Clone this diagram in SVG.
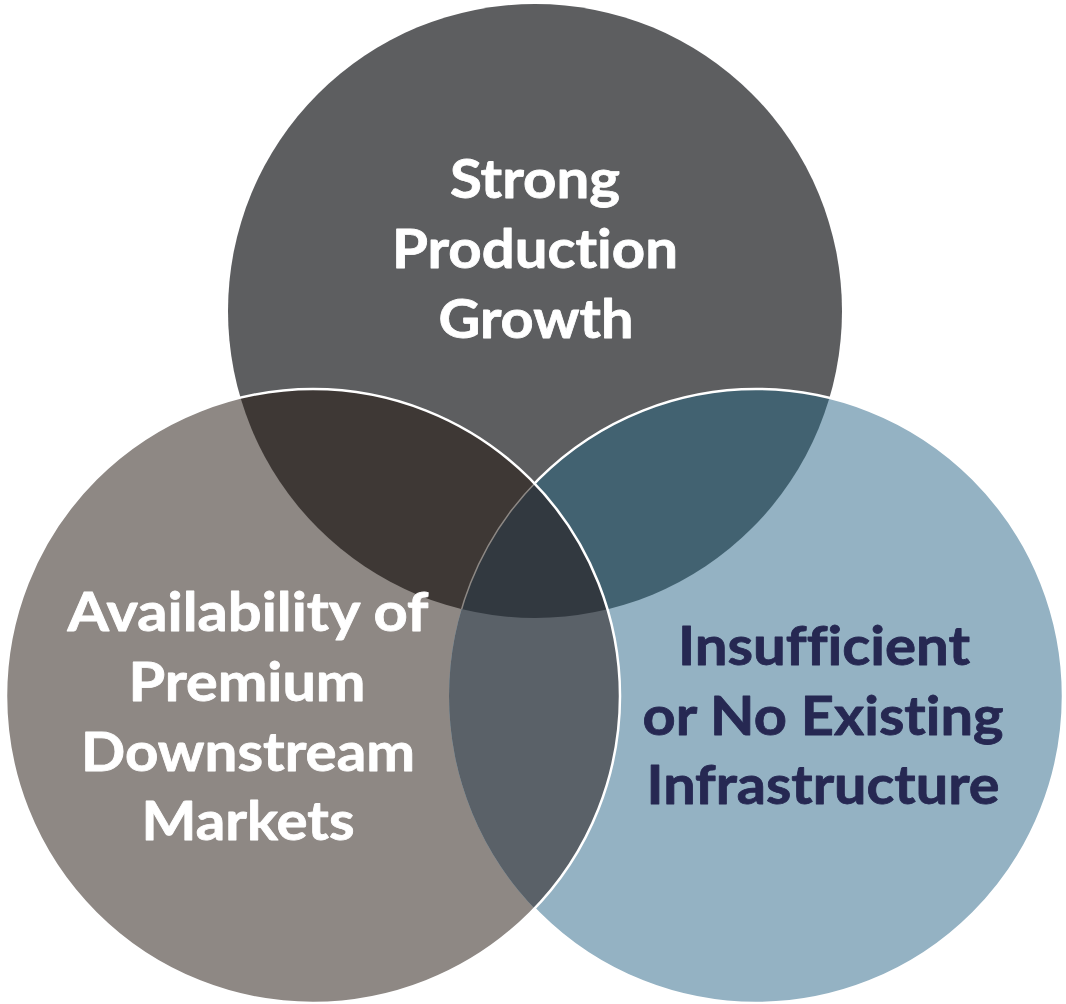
<svg xmlns="http://www.w3.org/2000/svg" width="1066" height="1004" viewBox="0 0 1066 1004">
<style>
.lbl{font-family:Lato,"Open Sans","Liberation Sans",sans-serif;font-weight:700;font-size:54px;text-anchor:middle;font-variant-ligatures:none;font-feature-settings:"liga" 0,"clig" 0,"dlig" 0;stroke-width:0.8px;stroke-linejoin:round}
.w{fill:#ffffff;stroke:#ffffff}
.n{fill:#262852;stroke:#262852}
</style>
<defs>
<clipPath id="cT"><circle cx="535" cy="311" r="307"/></clipPath>
<clipPath id="cL"><circle cx="313" cy="696" r="307"/></clipPath>
<clipPath id="cR"><circle cx="756" cy="696" r="307"/></clipPath>
<clipPath id="cNotL"><path clip-rule="evenodd" d="M-10 -10H1076V1014H-10Z M6 696A307 307 0 1 0 620 696A307 307 0 1 0 6 696Z"/></clipPath>
</defs>
<rect width="1066" height="1004" fill="#ffffff"/>
<g id="circle-top"><circle cx="535" cy="311" r="307" fill="#5d5e60"/></g>
<g id="circle-left"><circle cx="313" cy="696" r="307" fill="#8e8884"/></g>
<g id="circle-right"><circle cx="756" cy="696" r="307" fill="#94b2c3"/></g>
<g id="overlaps">
<circle cx="313" cy="696" r="307" fill="#3e3835" clip-path="url(#cT)"/>
<circle cx="756" cy="696" r="307" fill="#426271" clip-path="url(#cT)"/>
<circle cx="756" cy="696" r="307" fill="#5a6168" clip-path="url(#cL)"/>
<g clip-path="url(#cT)"><circle cx="756" cy="696" r="307" fill="#323940" clip-path="url(#cL)"/></g>
</g>
<g id="outlines" fill="none">
<g clip-path="url(#cT)"><circle cx="756" cy="696" r="307" stroke="#8d8884" stroke-width="1.5" clip-path="url(#cL)"/></g>
<circle cx="756" cy="696" r="307" stroke="#ffffff" stroke-width="2.5" clip-path="url(#cNotL)"/>
<circle cx="313" cy="696" r="307" stroke="#ffffff" stroke-width="2.5"/>
</g>
<g id="label-top" class="lbl w">
<text x="535" y="198" textLength="170" lengthAdjust="spacingAndGlyphs">Strong</text>
<text x="535" y="268" textLength="286" lengthAdjust="spacingAndGlyphs">Production</text>
<text x="536" y="338" textLength="195" lengthAdjust="spacingAndGlyphs">Growth</text>
</g>
<g id="label-left" class="lbl w">
<text x="248" y="631" textLength="361" lengthAdjust="spacingAndGlyphs">Availability of</text>
<text x="247" y="701" textLength="237" lengthAdjust="spacingAndGlyphs">Premium</text>
<text x="248" y="771" textLength="334" lengthAdjust="spacingAndGlyphs">Downstream</text>
<text x="248" y="840" textLength="213" lengthAdjust="spacingAndGlyphs">Markets</text>
</g>
<g id="label-right" class="lbl n">
<text x="824" y="665" textLength="292" lengthAdjust="spacingAndGlyphs">Insufficient</text>
<text x="823" y="735" textLength="361" lengthAdjust="spacingAndGlyphs">or No Existing</text>
<text x="823" y="804" textLength="353" lengthAdjust="spacingAndGlyphs">Infrastructure</text>
</g>
</svg>
